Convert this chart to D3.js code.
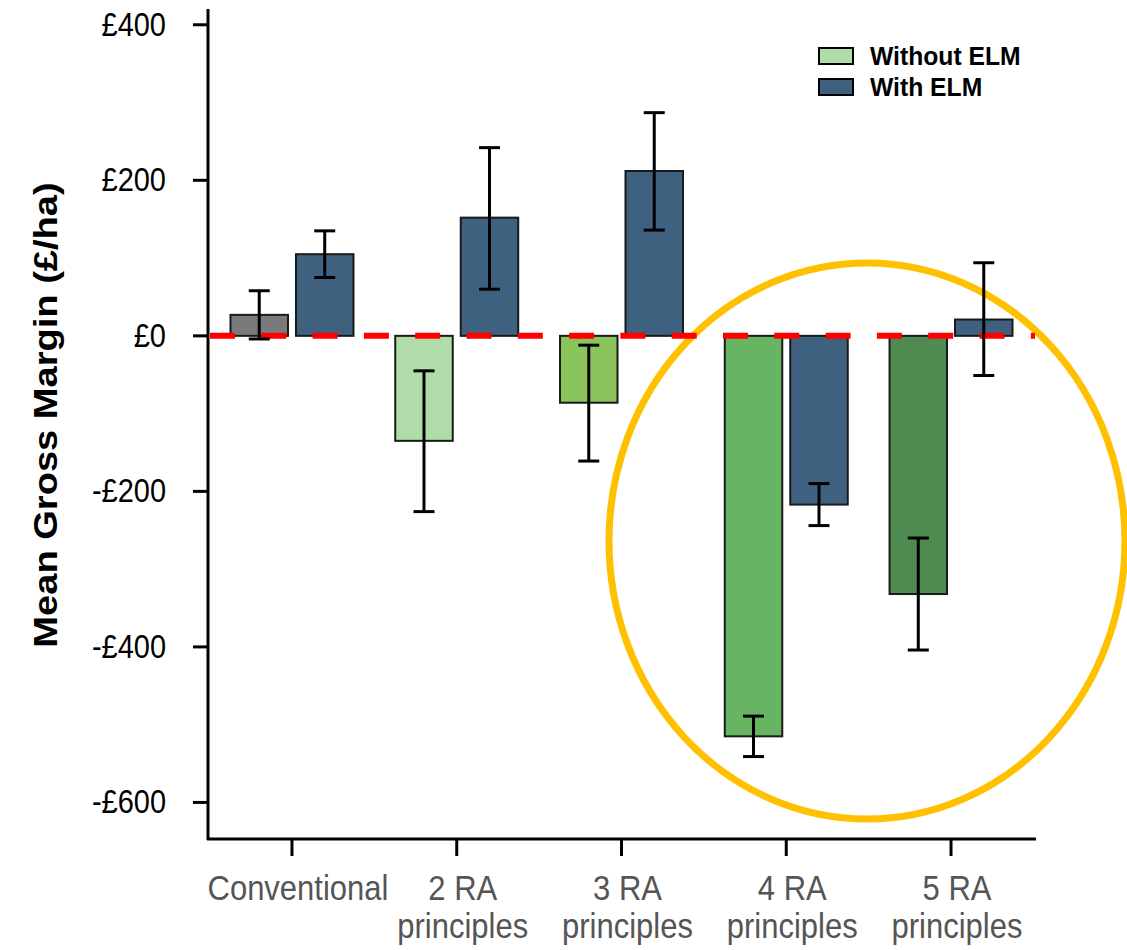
<!DOCTYPE html>
<html>
<head>
<meta charset="utf-8">
<script src="https://cdn.jsdelivr.net/npm/d3@7"></script>
<style>
  html, body { margin: 0; padding: 0; background: #fff; }
  svg { display: block; }
  text { font-family: "Liberation Sans", Arial, sans-serif; }
</style>
</head>
<body>
<svg id="chart" width="1127" height="950"></svg>
<script>
// ---- data ----
const categories = ["Conventional", "2 RA|principles", "3 RA|principles", "4 RA|principles", "5 RA|principles"];
const seriesNames = ["Without ELM", "With ELM"];
const withoutValues = [27, -135, -86, -515, -332];
const withoutErrLow = [-4, -226, -161, -541, -404];
const withoutErrHigh = [58, -45, -12, -489, -260];
const withValues = [105, 152, 212, -217, 21];
const withErrLow = [75, 60, 136, -244, -51];
const withErrHigh = [135, 242, 287, -190, 94];
const yTicks = [400, 200, 0, -200, -400, -600];
const yTickLabels = ["£400", "£200", "£0", "-£200", "-£400", "-£600"];

// ---- styles ----
const withoutColors = ["#7a7a7a", "#b0dcaa", "#8bc45b", "#67b563", "#4f8a50"];
const withColor = "#3f6180";
const legendWithoutColor = "#b0dcaa";

const svg = d3.select("#chart");

const y = d3.scaleLinear().domain([-647, 419]).range([839, 10]);
const x = d3.scaleBand().domain(categories).range([209.6, 1033.4]).paddingInner(0).paddingOuter(0);
const x1 = d3.scaleBand().domain(["without", "with"]).range([0, x.bandwidth()]).paddingInner(0.122).paddingOuter(0.319);

const rows = categories.map((c, i) => ({
  cat: c, i,
  bars: [
    {key: "without", v: withoutValues[i], lo: withoutErrLow[i], hi: withoutErrHigh[i], color: withoutColors[i]},
    {key: "with", v: withValues[i], lo: withErrLow[i], hi: withErrHigh[i], color: withColor}
  ]
}));

// bars
const g = svg.append("g");
rows.forEach(r => {
  r.bars.forEach(b => {
    g.append("rect")
      .attr("x", x(r.cat) + x1(b.key))
      .attr("width", x1.bandwidth())
      .attr("y", y(Math.max(0, b.v)))
      .attr("height", Math.abs(y(b.v) - y(0)))
      .attr("fill", b.color)
      .attr("stroke", "#1a1a1a")
      .attr("stroke-width", 2);
  });
});

// ellipse highlight
svg.append("ellipse")
  .attr("cx", 867).attr("cy", 541).attr("rx", 258).attr("ry", 278)
  .attr("fill", "none").attr("stroke", "#ffc000").attr("stroke-width", 7);

// zero dashed line
svg.append("line")
  .attr("x1", 210).attr("x2", 1035)
  .attr("y1", y(0)).attr("y2", y(0))
  .attr("stroke", "#ff0000").attr("stroke-width", 6)
  .attr("stroke-dasharray", "25,26.3");

// error bars
rows.forEach(r => {
  r.bars.forEach(b => {
    const cx = x(r.cat) + x1(b.key) + x1.bandwidth() / 2;
    svg.append("line").attr("x1", cx).attr("x2", cx).attr("y1", y(b.lo)).attr("y2", y(b.hi))
      .attr("stroke", "#000").attr("stroke-width", 3);
    [b.lo, b.hi].forEach(v => {
      svg.append("line").attr("x1", cx - 10.5).attr("x2", cx + 10.5).attr("y1", y(v)).attr("y2", y(v))
        .attr("stroke", "#000").attr("stroke-width", 3);
    });
  });
});

// y axis
const yAxis = svg.append("g").attr("transform", "translate(208,0)");
yAxis.append("line").attr("x1", 0).attr("x2", 0).attr("y1", 9).attr("y2", 840)
  .attr("stroke", "#000").attr("stroke-width", 3);
yTicks.forEach((t, i) => {
  yAxis.append("line").attr("x1", -15).attr("x2", 0).attr("y1", y(t)).attr("y2", y(t))
    .attr("stroke", "#000").attr("stroke-width", 3);
  yAxis.append("text")
    .attr("transform", `translate(-42,${y(t) + 11}) scale(1,1.12)`)
    .attr("text-anchor", "end")
    .attr("font-size", 29)
    .attr("fill", "#000")
    .text(yTickLabels[i]);
});

// x axis
const xAxis = svg.append("g");
xAxis.append("line").attr("x1", 207).attr("x2", 1036).attr("y1", 839).attr("y2", 839)
  .attr("stroke", "#000").attr("stroke-width", 3);
categories.forEach(c => {
  const cx = x(c) + x.bandwidth() / 2;
  xAxis.append("line").attr("x1", cx).attr("x2", cx).attr("y1", 839).attr("y2", 856)
    .attr("stroke", "#000").attr("stroke-width", 3);
  const parts = c.split("|");
  parts.forEach((p, k) => {
    xAxis.append("text")
      .attr("transform", `translate(${cx + 6},${900 + k * 38}) scale(1,1.12)`)
      .attr("text-anchor", "middle")
      .attr("font-size", 31)
      .attr("fill", "#555555")
      .text(p);
  });
});

// y title
svg.append("text")
  .attr("transform", "translate(57,415) rotate(-90) scale(1.12,1)")
  .attr("text-anchor", "middle")
  .attr("font-size", 34)
  .attr("font-weight", "bold")
  .attr("fill", "#000")
  .text("Mean Gross Margin (£/ha)");

// legend
const legend = svg.append("g");
[legendWithoutColor, withColor].forEach((col, i) => {
  legend.append("rect")
    .attr("x", 819).attr("y", 48 + i * 31).attr("width", 34).attr("height", 16)
    .attr("fill", col).attr("stroke", "#000").attr("stroke-width", 2);
  legend.append("text")
    .attr("transform", `translate(870,${65 + i * 31}) scale(1,1.05)`)
    .attr("font-size", 24.7).attr("font-weight", "bold").attr("fill", "#000")
    .text(seriesNames[i]);
});
</script>
</body>
</html>
